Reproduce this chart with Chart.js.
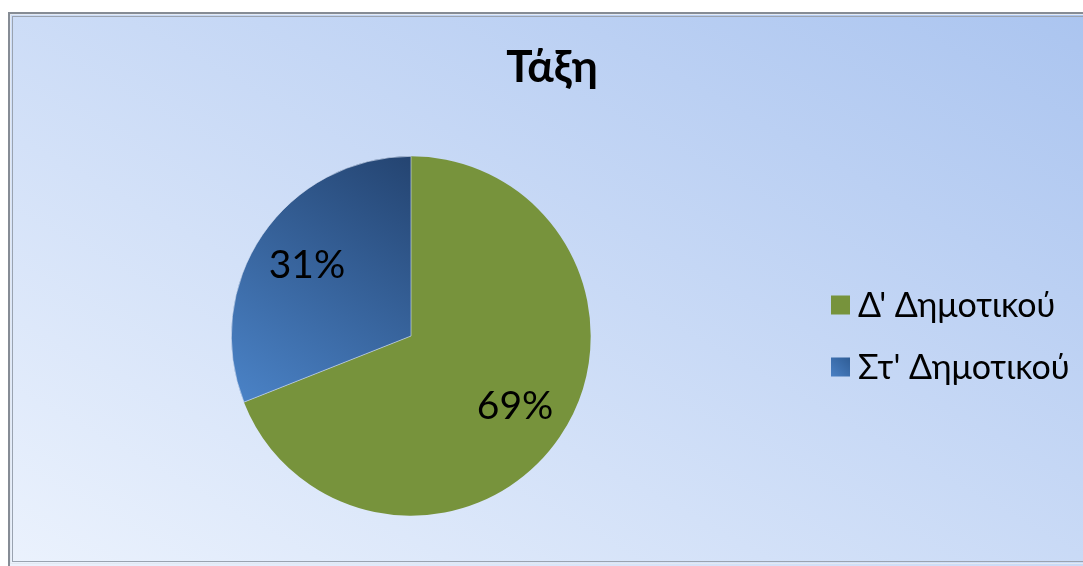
<!DOCTYPE html>
<html>
<head>
<meta charset="utf-8">
<title>Τάξη</title>
<script src="https://cdn.jsdelivr.net/npm/chart.js@4.4.1/dist/chart.umd.min.js"></script>
<style>
  html, body { margin: 0; padding: 0; background: #fff; }
  #wrap { width: 1083px; height: 566px; position: relative; }
</style>
</head>
<body>
<div id="wrap"><canvas id="classChart" width="1083" height="566"></canvas></div>
<script>
const chartTitle = 'Τάξη';
const classes = ["Δ' Δημοτικού", "Στ' Δημοτικού"];
const shares = [69, 31];
const sliceColors = ['#77933c', '#3b6aa6'];

const FONT = "Lato, 'Open Sans', 'Noto Sans', sans-serif";

// light blue panel with a grey bevelled frame
const panelPlugin = {
  id: 'panel',
  beforeDraw(chart) {
    const { ctx, width, height } = chart;
    ctx.save();
    ctx.fillStyle = '#ffffff';
    ctx.fillRect(0, 0, width, height);
    const g = ctx.createLinearGradient(8, height, 560, -420);
    g.addColorStop(0, '#ebf2fd');
    g.addColorStop(1, '#a3bfee');
    ctx.fillStyle = g;
    ctx.fillRect(8, 12, width, height);
    ctx.lineWidth = 2;
    ctx.strokeStyle = '#868c95';
    ctx.strokeRect(9, 13, width + 10, height - 10);
    ctx.lineWidth = 1;
    ctx.strokeStyle = '#e3e9f2';
    ctx.strokeRect(10.5, 14.5, width + 10, height - 17);
    ctx.strokeStyle = '#9aa3b0';
    ctx.strokeRect(12.5, 16.5, width + 10, height - 21);
    ctx.restore();
  },
  afterDraw(chart) {
    const { ctx } = chart;
    ctx.save();
    // title
    ctx.fillStyle = '#000';
    ctx.font = "bold 44px " + FONT;
    ctx.textAlign = 'center';
    ctx.textBaseline = 'middle';
    ctx.fillText(chartTitle, 552, 68);

    // percentage labels inside the slices
    const meta = chart.getDatasetMeta(0);
    const total = shares.reduce((a, b) => a + b, 0);
    ctx.font = "39px " + FONT;
    meta.data.forEach((arc, i) => {
      const p = arc.getProps(['x', 'y', 'startAngle', 'endAngle', 'outerRadius'], true);
      const mid = (p.startAngle + p.endAngle) / 2;
      const r = p.outerRadius * 0.7;
      const pct = Math.round(shares[i] / total * 100) + '%';
      ctx.fillText(pct, p.x + Math.cos(mid) * r, p.y + Math.sin(mid) * r);
    });

    // legend on the right
    ctx.font = "34px " + FONT;
    ctx.textAlign = 'left';
    classes.forEach((name, i) => {
      const cy = 305 + i * 62;
      const sq = 19;
      if (i === 1) {
        const lg = ctx.createLinearGradient(831, cy + sq / 2, 831 + sq, cy - sq / 2);
        lg.addColorStop(0, '#4a80c4');
        lg.addColorStop(1, '#2f5d96');
        ctx.fillStyle = lg;
      } else {
        ctx.fillStyle = sliceColors[i];
      }
      ctx.fillRect(831, cy - sq / 2, sq, sq);
      ctx.fillStyle = '#000';
      ctx.fillText(name, 858, cy + 1);
    });
    ctx.restore();
  }
};

const ctx = document.getElementById('classChart').getContext('2d');

// green slice flat, blue slice shaded: lighter towards the lower left, darker at the top
function sliceFill(context) {
  if (context.dataIndex !== 1) return sliceColors[0];
  const g = context.chart.ctx.createLinearGradient(244, 403, 411, 156);
  g.addColorStop(0, '#4a82c6');
  g.addColorStop(1, '#244471');
  return g;
}

new Chart(ctx, {
  type: 'pie',
  data: {
    labels: classes,
    datasets: [{
      data: shares,
      backgroundColor: sliceFill,
      borderColor: (c) => c.dataIndex === 1 ? '#d8e3f5' : sliceColors[0],
      borderWidth: (c) => c.dataIndex === 1 ? 0.6 : 0,
      hoverOffset: 0
    }]
  },
  options: {
    responsive: false,
    animation: false,
    events: [],
    layout: { padding: { left: 231, right: 492, top: 156, bottom: 50 } },
    plugins: {
      legend: { display: false },
      title: { display: false },
      tooltip: { enabled: false }
    }
  },
  plugins: [panelPlugin]
});
</script>
</body>
</html>
